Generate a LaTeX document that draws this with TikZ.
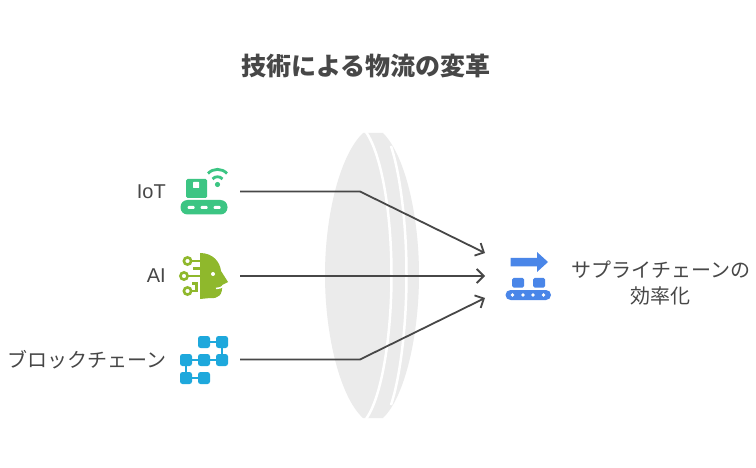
\documentclass[tikz,border=0pt]{standalone}
\usepackage{fontspec}
\setmainfont{Noto Sans CJK JP}
\newfontfamily\latinf{Liberation Sans}
\usetikzlibrary{arrows.meta}
\definecolor{tc}{HTML}{474747}
\definecolor{lens}{HTML}{EBEBEB}
\definecolor{gr}{HTML}{3CC583}
\definecolor{ol}{HTML}{8FB82C}
\definecolor{cy}{HTML}{1EA8DC}
\definecolor{bl}{HTML}{4A86E8}
\tikzset{
 lbl/.style={text=tc,font=\fontsize{20}{26}\selectfont,inner sep=0pt},
 conn/.style={draw=tc,line width=1.8pt,-{Straight Barb[length=7pt,width=14pt,line width=1.8pt]}},
 wire/.style={line width=2.6pt,fill=none},
}
\begin{document}
\begin{tikzpicture}[x=1pt,y=-1pt]
\useasboundingbox (0,0) rectangle (756,468);
\fill[white] (0,0) rectangle (756,468);
% lens
\fill[lens] (363,133) -- (383,133) .. controls (405,155) and (419,215) .. (419,275) .. controls (419,335) and (405,397) .. (383,418) -- (363,418) .. controls (340,397) and (325,335) .. (325,275) .. controls (325,215) and (340,155) .. (363,133) -- cycle;
\draw[white,line width=2.5pt] (366,132) .. controls (382,155) and (391.5,215) .. (391.5,275) .. controls (391.5,335) and (382,397) .. (366,419);
\draw[white,line width=2.5pt] (391,146) .. controls (400.5,175) and (406.5,225) .. (406.5,275) .. controls (406.5,325) and (400.5,376) .. (391,405);
% title
\node[lbl,font=\fontsize{25}{30}\selectfont\bfseries] (title) at (366,66) {技術による物流の変革};
% labels
\node[lbl,anchor=east] (iot) at (166,192) {\latinf IoT};
\node[lbl,anchor=east] (ai) at (166,276) {\latinf AI};
\node[lbl,anchor=east] (bc) at (167,360) {ブロックチェーン};
\node[lbl,align=center] (res) at (660.5,283) {サプライチェーンの\\効率化};
% connector anchors
\coordinate (s1) at (240,191.5);
\coordinate (k1) at (360,191.5);
\coordinate (s2) at (240,276);
\coordinate (s3) at (240,359.5);
\coordinate (k3) at (360,359.5);
\coordinate (e1) at (485,253);
\coordinate (e2) at (485,276);
\coordinate (e3) at (485,298);
\draw[conn] (s1) -- (k1) -- (e1);
\draw[conn] (s2) -- (e2);
\draw[conn] (s3) -- (k3) -- (e3);
% IoT icon
\fill[gr,rounded corners=1.5pt] (186,179) rectangle (207,198);
\fill[white,rounded corners=0.5pt] (193,182) rectangle (199,188);
\fill[gr,rounded corners=7pt] (180.5,200) rectangle (227.5,214.5);
\foreach \x in {191,204,217}{\fill[white,rounded corners=1pt] (\x-3.5,206) rectangle (\x+3.5,209);}
\draw[gr,line width=2.8pt] (208,173.5) .. controls (213,168) and (222,168) .. (227,173.5);
\draw[gr,line width=2.8pt] (212.5,179) .. controls (215,176) and (220,176) .. (222.5,179);
\fill[gr] (217.5,184.5) circle (2.6pt);
% AI icon
\fill[ol] (200,253) .. controls (213,253) and (220,262) .. (221,271) -- (228,282) -- (222,285) .. controls (223,295) and (218,299) .. (210,298) -- (200,299) -- cycle;
\fill[white] (213,274) circle (2pt);
\draw[white,line width=1.5pt] (216,288.5) .. controls (219,288.5) and (222,287.5) .. (224,285.5);
\draw[ol,wire] (187.5,261) circle (3.6pt);
\draw[ol,wire] (191,261) -- (200,261);
\draw[ol,wire] (184,276) circle (3.6pt);
\draw[ol,wire] (188,276) -- (200,276);
\draw[ol,wire] (193,268.5) -- (200,268.5);
\draw[ol,wire] (187.5,291) circle (3.6pt);
\draw[ol,wire] (191,291) -- (196.5,291) -- (196.5,283.5) -- (192,283.5);
% Blockchain icon
\foreach \x/\y in {186/360,204/360,222/360,186/378,204/378,204/342,222/342}{\fill[cy,rounded corners=2.5pt] (\x-6,\y-6) rectangle (\x+6,\y+6);}
\draw[cy,line width=2pt] (204,342) -- (222,342) -- (222,360) -- (186,360) -- (186,378) -- (204,378);
% Result icon
\fill[bl] (510.5,258) -- (537,258) -- (537,252) -- (548,262) -- (537,272) -- (537,266.5) -- (510.5,266.5) -- cycle;
\fill[bl,rounded corners=1.5pt] (512,278) rectangle (524,287.5);
\fill[bl,rounded corners=1.5pt] (533,278) rectangle (545,287.5);
\fill[bl,rounded corners=5pt] (505.5,290) rectangle (551,300);
\foreach \x in {512.5,523,533,543.5}{\fill[white] (\x,295) circle (1.8pt);}
\end{tikzpicture}
\end{document}
